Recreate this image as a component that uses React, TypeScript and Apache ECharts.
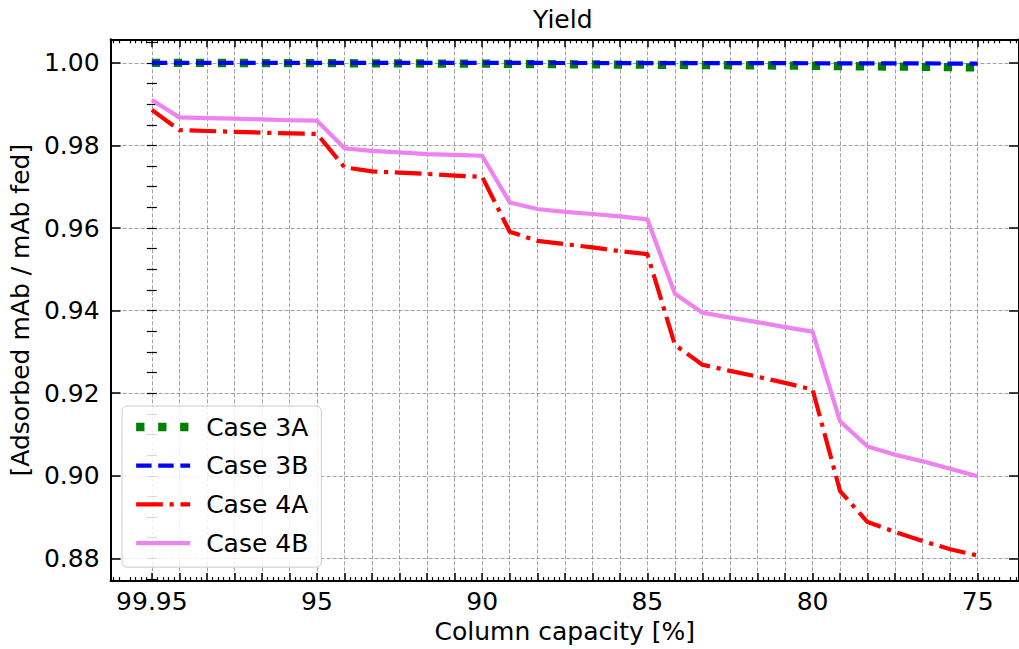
import { useEffect, useRef } from "react";
import * as echarts from "echarts";

// x positions are evenly spaced sample steps; ticks labelled at these step indices
const xTickIndex = [0, 6, 12, 18, 24, 30];
const xTickLabels = ["99.95", "95", "90", "85", "80", "75"];
const yTickValues = [0.88, 0.9, 0.92, 0.94, 0.96, 0.98, 1.0];

const seriesNames = ["Case 3A", "Case 3B", "Case 4A", "Case 4B"];

const case3A = [
  1.0, 0.99998, 0.99997, 0.99996, 0.99995, 0.99994, 0.99993, 0.9999, 0.99988, 0.99986,
  0.99984, 0.99982, 0.9998, 0.99975, 0.9997, 0.99966, 0.99962, 0.99958, 0.99955, 0.9995,
  0.99946, 0.99942, 0.99938, 0.99934, 0.9993, 0.99922, 0.99915, 0.9991, 0.99903, 0.99896,
  0.99889,
];
const case3B = [
  1.0, 1.0, 1.0, 1.0, 1.0, 1.0, 1.0, 0.99999, 0.99999, 0.99999,
  0.99998, 0.99998, 0.99998, 0.99997, 0.99997, 0.99996, 0.99996, 0.99995, 0.99995, 0.99994,
  0.99993, 0.99993, 0.99992, 0.99991, 0.9999, 0.99989, 0.99988, 0.99986, 0.99985, 0.99983,
  0.99981,
];
const case4A = [
  0.9886, 0.9837, 0.9835, 0.9833, 0.9831, 0.9829, 0.9828, 0.9747, 0.9737, 0.9734,
  0.9731, 0.9727, 0.9724, 0.9591, 0.9569, 0.9561, 0.9553, 0.9544, 0.9537, 0.9317,
  0.9269, 0.9254, 0.924, 0.9225, 0.9209, 0.8963, 0.8888, 0.8864, 0.8842, 0.8822,
  0.8807,
];
const case4B = [
  0.991, 0.9868, 0.9866, 0.9865, 0.9863, 0.9861, 0.986, 0.9793, 0.9787, 0.9783,
  0.9779, 0.9777, 0.9775, 0.9662, 0.9646, 0.9639, 0.9634, 0.9628, 0.9621, 0.9441,
  0.9395, 0.9383, 0.9372, 0.936, 0.9349, 0.9132, 0.9071, 0.9051, 0.9035, 0.9017,
  0.8999,
];

const FONT = "DejaVu Sans";
const X_MIN = -1.5;
const X_MAX = 31.5;
const Y_MIN = 0.8745;
const Y_MAX = 1.0057;

function buildOption() {
  const xMajor: number[] = [];
  for (let i = 0; i <= 30; i++) xMajor.push(i);
  const xMinor: number[] = [];
  for (let k = -7; k <= 157; k++) {
    if (k % 5 !== 0) xMinor.push(k / 5);
  }
  const yMinor: number[] = [];
  for (let k = 175; k <= 201; k++) yMinor.push(k * 0.005);

  const gridLine = { show: true, lineStyle: { color: "#8c8c8c", width: 0.8, type: [4, 2] } };
  const axisLine = { show: true, onZero: false, lineStyle: { color: "#000", width: 2 } };

  const xBase = (position: "bottom" | "top") => ({
    type: "value",
    min: X_MIN,
    max: X_MAX,
    position,
    axisLine,
  });
  const yBase = (position: "left" | "right") => ({
    type: "value",
    min: Y_MIN,
    max: Y_MAX,
    position,
    axisLine,
  });

  const dataOf = (arr: number[]) => arr.map((v, i) => [i, v]);

  const styles = [
    { color: "#008000", width: 8.3, type: [8.3, 13.7] },
    { color: "#0000ff", width: 4.2, type: [15.4, 6.7] },
    { color: "#ff0000", width: 4.2, type: [26.7, 6.7, 4.2, 6.7] },
    { color: "#ee82ee", width: 4.2, type: "solid" },
  ];
  const values = [case3A, case3B, case4A, case4B];
  const hiddenSymbol = { color: "rgba(0,0,0,0)", borderWidth: 0, opacity: 0 };

  return {
    animation: false,
    backgroundColor: "#ffffff",
    title: {
      text: "Yield",
      left: 533,
      top: 7,
      padding: 0,
      textStyle: { fontFamily: FONT, fontSize: 25, fontWeight: "normal", color: "#000" },
    },
    legend: {
      left: 122,
      top: 406,
      orient: "vertical",
      selectedMode: false,
      itemWidth: 54,
      itemHeight: 14,
      itemGap: 10.7,
      padding: [7, 13, 10, 10],
      backgroundColor: "rgba(255,255,255,0.85)",
      borderColor: "#cccccc",
      borderWidth: 1,
      borderRadius: 5,
      itemStyle: hiddenSymbol,
      textStyle: {
        fontFamily: FONT,
        fontSize: 25,
        color: "#000",
        lineHeight: 28,
        padding: [0, 0, 0, 11],
      },
      data: seriesNames.map((name, i) => ({
        name,
        itemStyle: hiddenSymbol,
        lineStyle: { width: styles[i].width, type: styles[i].type, color: styles[i].color },
      })),
    },
    grid: { left: 109, right: -2.5, top: 39.3, bottom: 67.3, containLabel: false },
    xAxis: [
      {
        ...xBase("bottom"),
        name: "Column capacity [%]",
        nameLocation: "middle",
        nameGap: 34,
        nameTextStyle: { fontFamily: FONT, fontSize: 25, color: "#000" },
        axisTick: { show: true, inside: true, length: 8, customValues: xMajor, lineStyle: { color: "#000", width: 1.5 } },
        axisLabel: {
          show: true,
          margin: 8,
          customValues: xTickIndex,
          fontFamily: FONT,
          fontSize: 25,
          color: "#000",
          formatter: (v: number) => {
            const k = xTickIndex.indexOf(Math.round(v));
            return k >= 0 ? xTickLabels[k] : "";
          },
        },
        splitLine: gridLine,
      },
      {
        ...xBase("bottom"),
        axisLine: { show: false },
        axisTick: { show: true, inside: true, length: 4, customValues: xMinor, lineStyle: { color: "#000", width: 1.2 } },
        axisLabel: { show: false },
        splitLine: { show: false },
      },
      {
        ...xBase("top"),
        axisTick: { show: true, inside: true, length: 8, customValues: xMajor, lineStyle: { color: "#000", width: 1.5 } },
        axisLabel: { show: false },
        splitLine: { show: false },
      },
      {
        ...xBase("top"),
        axisLine: { show: false },
        axisTick: { show: true, inside: true, length: 4, customValues: xMinor, lineStyle: { color: "#000", width: 1.2 } },
        axisLabel: { show: false },
        splitLine: { show: false },
      },
    ],
    yAxis: [
      {
        ...yBase("left"),
        name: "[Adsorbed mAb / mAb fed]",
        nameLocation: "middle",
        nameGap: 72,
        nameTextStyle: { fontFamily: FONT, fontSize: 25, color: "#000" },
        axisTick: { show: true, inside: true, length: 10, customValues: yTickValues, lineStyle: { color: "#000", width: 1.5 } },
        axisLabel: {
          show: true,
          margin: 11,
          customValues: yTickValues,
          fontFamily: FONT,
          fontSize: 25,
          color: "#000",
          formatter: (v: number) => v.toFixed(2),
        },
        splitLine: gridLine,
      },
      {
        ...yBase("left"),
        axisLine: { show: false },
        axisTick: { show: true, inside: true, length: 5, customValues: yMinor, lineStyle: { color: "#000", width: 1.2 } },
        axisLabel: { show: false },
        splitLine: { show: false },
      },
      {
        ...yBase("right"),
        axisTick: { show: true, inside: true, length: 10, customValues: yTickValues, lineStyle: { color: "#000", width: 1.5 } },
        axisLabel: { show: false },
        splitLine: { show: false },
      },
      {
        ...yBase("right"),
        axisLine: { show: false },
        axisTick: { show: true, inside: true, length: 5, customValues: yMinor, lineStyle: { color: "#000", width: 1.2 } },
        axisLabel: { show: false },
        splitLine: { show: false },
      },
    ],
    series: seriesNames.map((name, i) => ({
      name,
      type: "line",
      xAxisIndex: 0,
      yAxisIndex: 0,
      data: dataOf(values[i]),
      symbol: "none",
      showSymbol: false,
      clip: false,
      color: styles[i].color,
      lineStyle: {
        color: styles[i].color,
        width: styles[i].width,
        type: styles[i].type,
        join: "round",
        cap: "butt",
      },
      z: 3 + i,
    })),
  };
}

export default function App() {
  const ref = useRef<HTMLDivElement>(null);
  useEffect(() => {
    if (!ref.current) return;
    const chart = echarts.init(ref.current, null, { renderer: "svg" });
    chart.setOption(buildOption() as any);
    return () => chart.dispose();
  }, []);
  return (
    <div
      ref={ref}
      style={{ width: 1019, height: 649, position: "absolute", left: 0, top: 0 }}
    />
  );
}
